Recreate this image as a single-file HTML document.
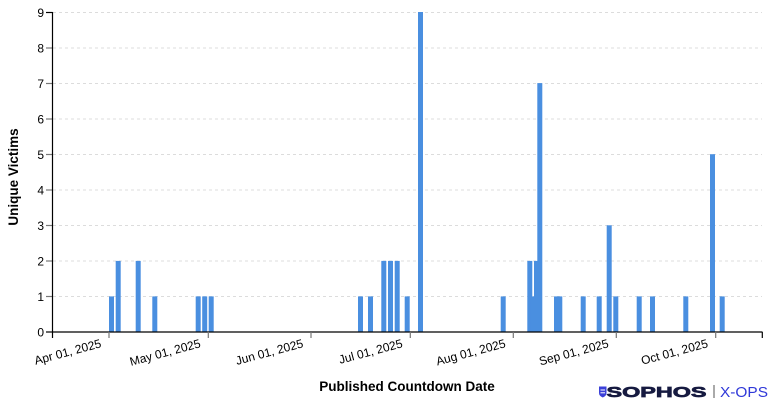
<!DOCTYPE html>
<html>
<head>
<meta charset="utf-8">
<style>
  html,body{margin:0;padding:0;background:#fff;}
  svg{display:block;font-family:"Liberation Sans",Arial,sans-serif;}
</style>
</head>
<body>
<svg width="773" height="402" viewBox="0 0 773 402" xmlns="http://www.w3.org/2000/svg">
  <!-- gridlines -->
  <g stroke="#dcdcdc" stroke-width="1" stroke-dasharray="3,3">
    <line x1="53" x2="762" y1="296.5" y2="296.5"/>
    <line x1="53" x2="762" y1="261" y2="261"/>
    <line x1="53" x2="762" y1="225.5" y2="225.5"/>
    <line x1="53" x2="762" y1="190" y2="190"/>
    <line x1="53" x2="762" y1="154.5" y2="154.5"/>
    <line x1="53" x2="762" y1="119" y2="119"/>
    <line x1="53" x2="762" y1="83.5" y2="83.5"/>
    <line x1="53" x2="762" y1="48" y2="48"/>
    <line x1="53" x2="762" y1="12.5" y2="12.5"/>
  </g>

  <!-- bars -->
  <g fill="#4a8fe0">
    <rect x="109" y="296.4" width="5" height="35.6"/>
    <rect x="115.7" y="260.9" width="5" height="71.1"/>
    <rect x="135.7" y="260.9" width="5" height="71.1"/>
    <rect x="152.3" y="296.4" width="5" height="35.6"/>
    <rect x="195.7" y="296.4" width="5" height="35.6"/>
    <rect x="202.2" y="296.4" width="5" height="35.6"/>
    <rect x="208.7" y="296.4" width="5" height="35.6"/>

    <rect x="358" y="296.4" width="5" height="35.6"/>
    <rect x="368" y="296.4" width="5" height="35.6"/>
    <rect x="381.3" y="260.9" width="5" height="71.1"/>
    <rect x="388" y="260.9" width="5" height="71.1"/>
    <rect x="394.7" y="260.9" width="5" height="71.1"/>
    <rect x="404.7" y="296.4" width="5" height="35.6"/>
    <rect x="418" y="12" width="5" height="320"/>

    <rect x="500.7" y="296.4" width="5" height="35.6"/>
    <rect x="527.3" y="260.9" width="5" height="71.1"/>
    <rect x="530.7" y="296.4" width="5" height="35.6"/>
    <rect x="534" y="260.9" width="5" height="71.1"/>
    <rect x="537.3" y="83.1" width="5" height="248.9"/>
    <rect x="554" y="296.4" width="5" height="35.6"/>
    <rect x="557.3" y="296.4" width="5" height="35.6"/>
    <rect x="580.7" y="296.4" width="5" height="35.6"/>
    <rect x="596.7" y="296.4" width="5" height="35.6"/>
    <rect x="606.7" y="225.3" width="5" height="106.7"/>
    <rect x="613.3" y="296.4" width="5" height="35.6"/>

    <rect x="636.7" y="296.4" width="5" height="35.6"/>
    <rect x="650" y="296.4" width="5" height="35.6"/>
    <rect x="683.3" y="296.4" width="5" height="35.6"/>
    <rect x="710" y="154.2" width="5" height="177.8"/>
    <rect x="719.7" y="296.4" width="5" height="35.6"/>
  </g>

  <!-- y axis -->
  <g stroke="#777" stroke-width="1.2">
    <line x1="46" x2="52" y1="296.5" y2="296.5"/>
    <line x1="46" x2="52" y1="261" y2="261"/>
    <line x1="46" x2="52" y1="225.5" y2="225.5"/>
    <line x1="46" x2="52" y1="190" y2="190"/>
    <line x1="46" x2="52" y1="154.5" y2="154.5"/>
    <line x1="46" x2="52" y1="119" y2="119"/>
    <line x1="46" x2="52" y1="83.5" y2="83.5"/>
    <line x1="46" x2="52" y1="48" y2="48"/>
  </g>
  <g stroke="#000" stroke-width="1.2">
    <line x1="46" x2="52.5" y1="12.5" y2="12.5"/>
    <line x1="46" x2="52.5" y1="332" y2="332"/>
    <line x1="52.5" x2="52.5" y1="12" y2="332.5"/>
    <!-- x axis -->
    <line x1="52" x2="762.5" y1="332" y2="332"/>
    <line x1="52.5" x2="52.5" y1="332" y2="338"/>
    <line x1="762.3" x2="762.3" y1="332" y2="338"/>
  </g>
  <g stroke="#777" stroke-width="1.2">
    <line x1="109" x2="109" y1="332" y2="338"/>
    <line x1="208.3" x2="208.3" y1="332" y2="338"/>
    <line x1="311" x2="311" y1="332" y2="338"/>
    <line x1="410.3" x2="410.3" y1="332" y2="338"/>
    <line x1="513.3" x2="513.3" y1="332" y2="338"/>
    <line x1="616.3" x2="616.3" y1="332" y2="338"/>
    <line x1="715.7" x2="715.7" y1="332" y2="338"/>
  </g>

  <!-- y tick labels -->
  <g font-size="12" fill="#000" text-anchor="end">
    <text x="44" y="336.5">0</text>
    <text x="44" y="301">1</text>
    <text x="44" y="265.5">2</text>
    <text x="44" y="230">3</text>
    <text x="44" y="194.5">4</text>
    <text x="44" y="159">5</text>
    <text x="44" y="123.5">6</text>
    <text x="44" y="88">7</text>
    <text x="44" y="52.5">8</text>
    <text x="44" y="17">9</text>
  </g>

  <!-- x tick labels -->
  <g font-size="12" fill="#000" text-anchor="end">
    <text transform="translate(102,347) rotate(-15)">Apr 01, 2025</text>
    <text transform="translate(201.3,347) rotate(-15)">May 01, 2025</text>
    <text transform="translate(304,347) rotate(-15)">Jun 01, 2025</text>
    <text transform="translate(403.3,347) rotate(-15)">Jul 01, 2025</text>
    <text transform="translate(506.3,347) rotate(-15)">Aug 01, 2025</text>
    <text transform="translate(609.3,347) rotate(-15)">Sep 01, 2025</text>
    <text transform="translate(708.7,347) rotate(-15)">Oct 01, 2025</text>
  </g>

  <!-- axis titles -->
  <text transform="translate(18,177) rotate(-90)" text-anchor="middle" font-size="13.5" font-weight="bold" fill="#000">Unique Victims</text>
  <text x="407" y="391" text-anchor="middle" font-size="13.5" font-weight="bold" fill="#000">Published Countdown Date</text>

  <!-- logo -->
  <path d="M599,386.5 L606.5,386.5 L606.5,393 Q606.5,396 602.8,397.5 Q599,396 599,393 Z" fill="#3b40d8"/>
  <line x1="600.5" x2="605" y1="390" y2="390" stroke="#fff" stroke-width="1"/>
  <line x1="600.5" x2="605" y1="392.8" y2="392.8" stroke="#fff" stroke-width="1"/>
  <text x="606.5" y="397" font-size="15" font-weight="bold" fill="#161a40" stroke="#161a40" stroke-width="0.7" textLength="100" lengthAdjust="spacingAndGlyphs">SOPHOS</text>
  <line x1="714" x2="714" y1="385" y2="398" stroke="#555" stroke-width="1"/>
  <text x="720" y="397" font-size="14.5" fill="#2f38d8" textLength="48" lengthAdjust="spacingAndGlyphs">X-OPS</text>
</svg>
</body>
</html>
